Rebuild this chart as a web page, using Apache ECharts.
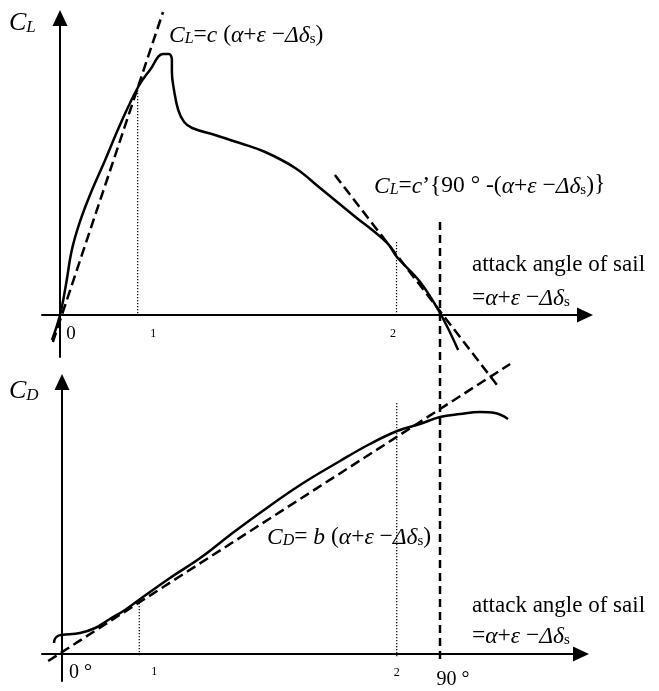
<!DOCTYPE html>
<html>
<head>
<meta charset="utf-8">
<script src="https://cdn.jsdelivr.net/npm/echarts@6/dist/echarts.min.js"></script>
<style>
html,body{margin:0;padding:0;background:#fff}
#main{width:659px;height:691px}
</style>
</head>
<body>
<div id="main"></div>
<script>
// lift coefficient curve (angle in degrees, CL arbitrary units)
var liftAngle = [-1.9, 0, 1.4, 2.8, 4.7, 7.1, 10.7, 14.2, 18.5, 21.3, 24.4, 25.8, 26.5, 26.5, 27.0, 28.0, 29.4, 31.3, 36.7, 42.6, 48.6, 55.7, 61.6, 69.4, 77.5, 79.8, 85.3, 90, 94.3];
var liftCoef = [-0.125, 0, 0.15, 0.325, 0.465, 0.6, 0.775, 0.95, 1.14, 1.225, 1.305, 1.305, 1.275, 1.215, 1.125, 1.025, 0.965, 0.935, 0.9, 0.86, 0.815, 0.735, 0.635, 0.5, 0.36, 0.29, 0.165, 0.01, -0.175];

// drag coefficient curve
var dragAngle = [-1.9, -1.7, -1.0, 0, 4.3, 7.9, 11.4, 15.0, 18.3, 25.7, 32.9, 40.0, 47.1, 56.7, 66.2, 73.3, 79.8, 85.2, 90, 94.8, 99.5, 103.1, 106.2];
var dragCoef = [0.055, 0.075, 0.09, 0.095, 0.105, 0.13, 0.175, 0.22, 0.27, 0.38, 0.48, 0.595, 0.705, 0.845, 0.965, 1.05, 1.115, 1.15, 1.185, 1.2, 1.21, 1.205, 1.175];

// linear approximations (dashed)
var tangentLowAngle = [-1.7, 24.4];
var tangentLowLift = [-0.135, 1.515];
var tangentHighAngle = [65.1, 103.5];
var tangentHighLift = [0.7, -0.35];
var dragLineAngle = [-3.3, 106.7];
var dragLineCoef = [-0.035, 1.45];

// 90 degree line, drawn across both panels
var stallAngle = 90;
var stallSpan = [2.16, -0.045];

// dotted markers at angle 1 and angle 2
var markAngle = [18.4, 79.7];
var liftMarkTop = [1.14, 0.365];
var dragMarkTop = [0.27, 1.255];
var dragMarkBottom = -0.015;

// tick labels
var liftTicks = [0, 18.4, 79.7];
var liftTickLabels = ['0', '1', '2'];
var dragTicks = [0, 18.4, 79.7, 90];
var dragTickLabels = ['0 °', '1', '2', '90 °'];

var FONT = 'Liberation Serif';

function zip(xs, ys) {
    return xs.map(function (x, i) { return [x, ys[i]]; });
}

function line(name, data, grid, style, smooth) {
    return {
        name: name,
        type: 'line',
        xAxisIndex: grid,
        yAxisIndex: grid,
        data: data,
        symbol: 'none',
        smooth: smooth || false,
        clip: false,
        silent: true,
        lineStyle: style
    };
}

var solid = {color: '#000', width: 2.5};
var dashed = {color: '#000', width: 2.5, type: [10, 5]};
var dotted = {color: '#000', width: 1.2, type: [1.2, 1.8]};

function axisLine() {
    return {
        onZero: false,
        symbol: ['none', 'triangle'],
        symbolSize: [15, 16],
        lineStyle: {color: '#000', width: 2}
    };
}

var tickRich = {
    t0: {fontFamily: FONT, fontSize: 19, lineHeight: 20, padding: [0, 0, 0, 22]},
    t1: {fontFamily: FONT, fontSize: 12, lineHeight: 12, padding: [7, 0, 0, 31]},
    t2: {fontFamily: FONT, fontSize: 12, lineHeight: 12, padding: [8, 7, 0, 0]},
    b0: {fontFamily: FONT, fontSize: 20, lineHeight: 20, padding: [0, 0, 0, 37]},
    b1: {fontFamily: FONT, fontSize: 12, lineHeight: 12, padding: [6, 0, 0, 30]},
    b2: {fontFamily: FONT, fontSize: 12, lineHeight: 12, padding: [8, 0, 0, 0]},
    b3: {fontFamily: FONT, fontSize: 20, lineHeight: 20, padding: [14, 0, 0, 26]}
};

function xAxisFor(grid, min, max, offset, ticks, labels, prefix) {
    return {
        type: 'value',
        gridIndex: grid,
        position: 'bottom',
        offset: offset,
        min: min,
        max: max,
        axisLine: axisLine(),
        axisTick: {show: false},
        splitLine: {show: false},
        axisLabel: {
            customValues: ticks,
            margin: 9,
            color: '#000',
            rich: tickRich,
            formatter: function (v) {
                var i = ticks.indexOf(v);
                return '{' + prefix + i + '|' + labels[i] + '}';
            }
        }
    };
}

function yAxisFor(grid, min, max, offset) {
    return {
        type: 'value',
        gridIndex: grid,
        position: 'left',
        offset: offset,
        min: min,
        max: max,
        axisLine: axisLine(),
        axisTick: {show: false},
        axisLabel: {show: false},
        splitLine: {show: false}
    };
}

var txtRich = {
    C: {fontFamily: FONT, fontStyle: 'italic', fontSize: 26, lineHeight: 30, verticalAlign: 'bottom'},
    cs: {fontFamily: FONT, fontStyle: 'italic', fontSize: 17, lineHeight: 16, verticalAlign: 'bottom'},
    i: {fontFamily: FONT, fontStyle: 'italic', fontSize: 23.5, lineHeight: 28, verticalAlign: 'bottom'},
    n: {fontFamily: FONT, fontSize: 23.5, lineHeight: 28, verticalAlign: 'bottom'},
    si: {fontFamily: FONT, fontStyle: 'italic', fontSize: 16, lineHeight: 15, verticalAlign: 'bottom'},
    sn: {fontFamily: FONT, fontSize: 15, lineHeight: 15, verticalAlign: 'bottom'},
    w: {fontFamily: FONT, fontSize: 23, lineHeight: 28}
};

function label(left, top, text) {
    return {
        type: 'text',
        left: left,
        top: top,
        silent: true,
        style: {
            text: text,
            rich: txtRich,
            font: '23.5px ' + FONT,
            lineHeight: 28,
            fill: '#000'
        }
    };
}

var angleTail = '{n|=}{i|α}{n|+}{i|ε}{n| −}{i|Δδ}{sn|s}';

var option = {
    animation: false,
    backgroundColor: '#fff',
    grid: [
        {left: 42, right: 74, top: 18, bottom: 334, outerBoundsMode: 'none', containLabel: false},
        {left: 42, right: 78, top: 382, bottom: 10, outerBoundsMode: 'none', containLabel: false}
    ],
    xAxis: [
        xAxisFor(0, -4.263, 124.34, -42, liftTicks, liftTickLabels, 't'),
        xAxisFor(1, -4.762, 123.57, -27, dragTicks, dragTickLabels, 'b')
    ],
    yAxis: [
        yAxisFor(0, -0.21, 1.485, -18),
        yAxisFor(1, -0.135, 1.36, -20)
    ],
    graphic: [
        label(9, 6, '{C|C}{cs|L}'),
        label(9, 374, '{C|C}{cs|D}'),
        label(169, 19, '{i|C}{si|L}{n|=}{i|c}{n| (}{i|α}{n|+}{i|ε}{n| −}{i|Δδ}{sn|s}{n|)}'),
        label(374, 170, '{i|C}{si|L}{n|=}{i|c}{n|’{90 ° -(}{i|α}{n|+}{i|ε}{n| −}{i|Δδ}{sn|s}{n|)}}'),
        label(472, 251, '{w|attack angle of sail}'),
        label(472, 282, angleTail),
        label(472, 592, '{w|attack angle of sail}'),
        label(472, 620, angleTail),
        label(267, 521, '{i|C}{si|D}{n|= }{i|b}{n| (}{i|α}{n|+}{i|ε}{n| −}{i|Δδ}{sn|s}{n|)}')
    ],
    series: [
        line('CL', zip(liftAngle, liftCoef), 0, solid, 0.4),
        line('CL linear', zip(tangentLowAngle, tangentLowLift), 0, dashed),
        line('CL post-stall', zip(tangentHighAngle, tangentHighLift), 0, dashed),
        line('mark 1', [[markAngle[0], liftMarkTop[0]], [markAngle[0], 0]], 0, dotted),
        line('mark 2', [[markAngle[1], liftMarkTop[1]], [markAngle[1], 0]], 0, dotted),
        line('CD', zip(dragAngle, dragCoef), 1, solid, 0.4),
        line('CD linear', zip(dragLineAngle, dragLineCoef), 1, dashed),
        line('mark 1 D', [[markAngle[0], dragMarkTop[0]], [markAngle[0], dragMarkBottom]], 1, dotted),
        line('mark 2 D', [[markAngle[1], dragMarkTop[1]], [markAngle[1], dragMarkBottom]], 1, dotted),
        line('90', [[stallAngle, stallSpan[0]], [stallAngle, stallSpan[1]]], 1, {color: '#000', width: 2.5, type: [8, 5]})
    ]
};

var myChart = echarts.init(document.getElementById('main'));
myChart.setOption(option);
</script>
</body>
</html>
